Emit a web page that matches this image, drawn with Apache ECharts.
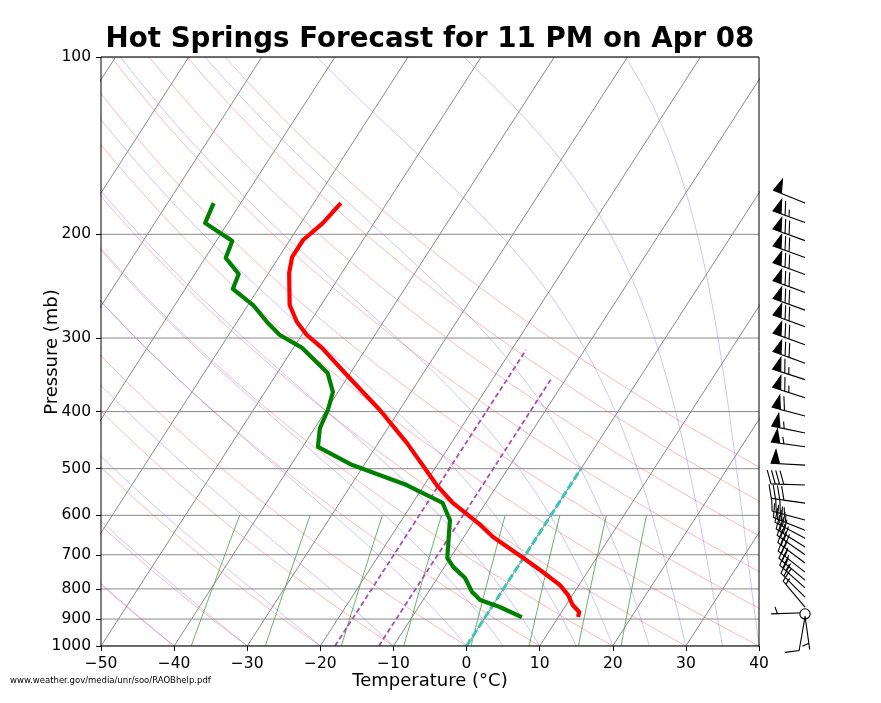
<!DOCTYPE html>
<html><head><meta charset="utf-8">
<script src="https://cdn.jsdelivr.net/npm/echarts@6/dist/echarts.min.js"></script>
<style>html,body{margin:0;padding:0;background:#fff}#c{width:881px;height:703px}</style>
</head><body><div id="c"></div><script>
// ---------------- data ----------------
const tempP = [177,191.4,204.5,218.6,232.6,263.7,281.8,296.5,311.8,346.7,397.5,452,533,571.7,623,653,709,748.8,788,819.5,852,875.5,893];
const tempC = [-56.3,-57.0,-58.2,-58.2,-57.2,-54.3,-51.8,-49.3,-46.1,-40.3,-32.7,-26.1,-18.3,-14.5,-8.8,-6.0,0.0,3.9,7.4,9.4,10.9,12.4,12.7];
const dewP = [177,191.4,205.3,219.4,233.6,247.6,263.7,281.8,296.5,311.8,344,370.5,397.5,426.5,459.3,492.9,533,571.7,611,709,734,766.7,810,835.6,858.6,893];
const dewC = [-73.7,-73.1,-67.8,-67.2,-64.0,-63.5,-59.3,-55.9,-53.0,-48.8,-43.1,-40.7,-39.8,-39.3,-37.9,-31.6,-22.4,-15.9,-13.4,-10.4,-8.8,-6.2,-4.0,-2.2,1.1,5.0];
const windP   = [177,191,205,219,234,251,269,287,308,331,353,379,407,435,459,493,533,572,611,636,656,679,700,723,749,773,797,826,859,878,882,889,893];
const windSpd = [50,65,70,70,70,70,70,70,70,70,65,65,60,55,55,50,40,40,35,35,30,30,30,30,25,25,25,20,15,5,0,5,10];
const windDir = [292,290,290,290,290,290,290,290,290,290,288,288,285,282,278,273,272,278,285,292,298,302,305,307,308,310,312,315,320,268,0,172,190];
const refIsoT   = [0,-12,-18];
const refIsoTop = [500,353,314];
const xTicks = [-50,-40,-30,-20,-10,0,10,20,30,40];
const pTicks = [100,200,300,400,500,600,700,800,900,1000];
const isothermT = [-100,-90,-80,-70,-60,-50,-40,-30,-20,-10,0,10,20,30,40];
const dryT0 = [-50,-40,-30,-20,-10,0,10,20,30,40,50,60,70,80,90];
const moistT0 = [-50,-40,-30,-20,-10,0,5,10,15,20,25,30,35,40];
const mixW = [0.00015,0.0004,0.001,0.002,0.004,0.007,0.011,0.016];

// ---------------- helpers ----------------
const SKEW = 52;
const ly = p => Math.log10(p);
const sx = (t, p) => t + SKEW * (3 - Math.log10(p));
const series = [];
function addLine(pts, style, z) {
  series.push({type:'line', xAxisIndex:0, yAxisIndex:0, data:pts, showSymbol:false, symbol:'none',
    silent:true, animation:false, clip:true, z:z, lineStyle:style});
}
const pr = [];
for (let p = 1000; p >= 100; p -= 10) pr.push(p);

// isobars
pTicks.forEach(p => addLine([[-50, ly(p)], [40, ly(p)]], {color:'#8a8a8a', width:1}, 2));
// isotherms
isothermT.forEach(t => addLine([[sx(t,1000),3],[sx(t,100),2]], {color:'#8a8a8a', width:1}, 2));
// dry adiabats
dryT0.forEach(t0 => {
  const th = t0 + 273.15;
  addLine(pr.map(p => [sx(th*Math.pow(p/1000,0.2857)-273.15, p), ly(p)]), {color:'rgba(255,0,0,0.28)', width:1}, 1);
});
// moist adiabats
(function(){
  const Rd=287.04749, Cp=1004.6662, Lv=2.50084e6, eps=0.622;
  const rs = (p,T) => { const es = 6.112*Math.exp(17.67*(T-273.15)/(T-29.65)); return eps*es/(p-es); };
  const f = (p,T) => { const r = rs(p,T); return (Rd*T + Lv*r)/(Cp + Lv*Lv*r*eps/(Rd*T*T))/p; };
  moistT0.forEach(t0 => {
    let T = t0 + 273.15; const h = -2; const pts = [[sx(t0,1000),3]];
    for (let i = 0; i < 450; i++) {
      const p = 1000 + i*h;
      const k1 = f(p,T), k2 = f(p+h/2, T+h/2*k1), k3 = f(p+h/2, T+h/2*k2), k4 = f(p+h, T+h*k3);
      T += h/6*(k1+2*k2+2*k3+k4);
      const pn = p + h;
      if (Math.round(pn) % 10 === 0) pts.push([sx(T-273.15, pn), ly(pn)]);
    }
    addLine(pts, {color:'rgba(0,0,255,0.22)', width:1}, 1);
  });
})();
// mixing ratio lines
mixW.forEach(w => {
  const pts = [];
  for (let p = 1000; p >= 600; p -= 20) {
    const e = w*p/(0.622+w), a = Math.log(e/6.112);
    const td = 243.5*a/(17.67-a);
    pts.push([sx(td,p), ly(p)]);
  }
  addLine(pts, {color:'rgba(0,128,0,0.6)', width:1}, 1);
});
// reference isotherms (0C, -12C, -18C)
addLine([[sx(refIsoT[0],1000),3],[sx(refIsoT[0],refIsoTop[0]),ly(refIsoTop[0])]], {color:'#3fc4b8', width:3, type:[8,3]}, 6);
addLine([[sx(refIsoT[1],1000),3],[sx(refIsoT[1],refIsoTop[1]),ly(refIsoTop[1])]], {color:'#a94fae', width:1.8, type:[5,3]}, 6);
addLine([[sx(refIsoT[2],1000),3],[sx(refIsoT[2],refIsoTop[2]),ly(refIsoTop[2])]], {color:'#a94fae', width:1.8, type:[5,3]}, 6);
// sounding
addLine(tempP.map((p,i) => [sx(tempC[i],p), ly(p)]), {color:'#ff0000', width:4.2, join:'round'}, 10);
addLine(dewP.map((p,i) => [sx(dewC[i],p), ly(p)]), {color:'#008000', width:4.2, join:'round'}, 10);

// wind barbs
function renderBarb(params, api) {
  const o = api.coord([api.value(0), api.value(1)]);
  const spd = api.value(2), dir = api.value(3) * Math.PI / 180;
  const L = 34, spacing = 0.125*L, fullH = 0.4*L, fullW = 0.25*L;
  const mag = 5*Math.floor(spd/5 + 0.5);
  if (mag < 5) return {type:'circle', shape:{cx:o[0], cy:o[1], r:0.15*L}, style:{fill:'#fff', stroke:'#000', lineWidth:1.1}};
  const nflags = Math.floor(mag/50); const rem = mag - nflags*50;
  const nbarbs = Math.floor(rem/10); const half = (rem - nbarbs*10) >= 5;
  const s = [Math.sin(dir), -Math.cos(dir)], b = [Math.cos(dir), Math.sin(dir)];
  const v = [[0,0]]; let off = L;
  for (let i = 0; i < nflags; i++) {
    if (off !== L) off += spacing/2;
    v.push([0,off],[fullH, off - fullW/2],[0, off - fullW]);
    off -= fullW + spacing;
  }
  for (let i = 0; i < nbarbs; i++) { v.push([0,off],[fullH, off + fullW/2],[0,off]); off -= spacing; }
  if (half) {
    if (off === L) { v.push([0,off]); off -= 1.5*spacing; }
    v.push([0,off],[fullH/2, off + fullW/4],[0,off]);
  }
  const pts = v.map(q => [o[0] + q[0]*b[0] + q[1]*s[0], o[1] + q[0]*b[1] + q[1]*s[1]]);
  return {type:'polygon', shape:{points:pts}, style:{fill:'#000', stroke:'#000', lineWidth:1.1}};
}
series.push({type:'custom', xAxisIndex:1, yAxisIndex:1, clip:false, silent:true, animation:false, z:10,
  renderItem:renderBarb, encode:{x:0, y:1},
  data: windP.map((p,i) => [0, ly(p), windSpd[i], windDir[i]])});

const FONT = '"DejaVu Sans", "Liberation Sans", sans-serif';
const chart = echarts.init(document.getElementById('c'), null, {renderer:'canvas'});
chart.setOption({
  animation:false,
  backgroundColor:'#fff',
  grid:[
    {left:101, top:57, width:658, height:589, show:true, borderColor:'#000', borderWidth:1, backgroundColor:'transparent', z:20},
    {left:785, top:57, width:40, height:589, show:false}
  ],
  xAxis:[
    {type:'value', gridIndex:0, min:-50, max:40, interval:10,
     axisLine:{show:false, onZero:false}, splitLine:{show:false},
     axisTick:{show:true, length:5, lineStyle:{color:'#000', width:1}},
     axisLabel:{fontSize:15.5, color:'#000', margin:10, fontFamily:FONT,
       formatter: v => String(v).replace('-', '\u2212')}},
    {type:'value', gridIndex:1, min:-1, max:1, show:false, axisLine:{onZero:false}}
  ],
  yAxis:[
    {type:'value', gridIndex:0, min:2, max:3, inverse:true,
     axisLine:{show:false, onZero:false}, splitLine:{show:false},
     axisTick:{show:true, length:5, lineStyle:{color:'#000', width:1}, customValues:pTicks.map(ly)},
     axisLabel:{fontSize:15.5, color:'#000', margin:10, fontFamily:FONT, customValues:pTicks.map(ly),
       formatter: v => String(Math.round(Math.pow(10, v)))}},
    {type:'value', gridIndex:1, min:2, max:3, inverse:true, show:false, axisLine:{onZero:false}}
  ],
  graphic:[
    {type:'text', x:430, y:40, silent:true, style:{text:'Hot Springs Forecast for 11 PM on Apr 08', align:'center', verticalAlign:'middle', font:'bold 27.7px ' + FONT, fill:'#000'}},
    {type:'text', x:52, y:352, rotation:Math.PI/2, silent:true, style:{text:'Pressure (mb)', align:'center', verticalAlign:'middle', font:'18px ' + FONT, fill:'#000'}},
    {type:'text', x:430, y:681, silent:true, style:{text:'Temperature (\u00b0C)', align:'center', verticalAlign:'middle', font:'18px ' + FONT, fill:'#000'}},
    {type:'text', x:10, y:681, silent:true, style:{text:'www.weather.gov/media/unr/soo/RAOBhelp.pdf', align:'left', verticalAlign:'middle', font:'8.5px ' + FONT, fill:'#000'}}
  ],
  series: series
});
</script></body></html>
